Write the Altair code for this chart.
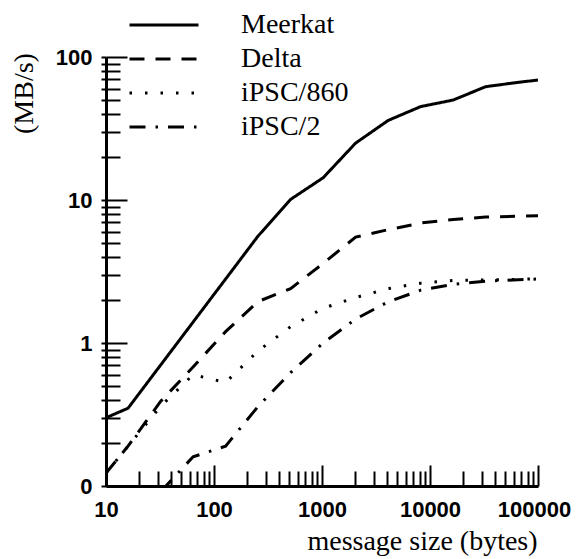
import altair as alt
import pandas as pd

# ---- data ----
sizes = [10, 16, 32, 64, 128, 256, 512, 1024, 2048, 4096, 8192, 16384, 32768, 65536, 100000]
meerkat = [0.30, 0.35, 0.70, 1.40, 2.80, 5.60, 10.1, 14.3, 25.0, 36.0, 45.0, 50.0, 62.0, 66.5, 69.0]
delta = [0.123, 0.19, 0.39, 0.68, 1.20, 1.95, 2.40, 3.60, 5.50, 6.20, 6.90, 7.30, 7.60, 7.70, 7.75]
ipsc860 = [0.123, 0.19, 0.36, 0.60, 0.53, 0.88, 1.30, 1.75, 2.08, 2.40, 2.62, 2.74, 2.76, 2.78, 2.82]
ipsc2_sizes = [32, 64, 128, 256, 512, 1024, 2048, 4096, 8192, 16384, 32768, 65536, 100000]
ipsc2 = [0.091, 0.16, 0.19, 0.36, 0.62, 1.00, 1.47, 1.94, 2.34, 2.57, 2.71, 2.77, 2.80]

series = ["Meerkat", "Delta", "iPSC/860", "iPSC/2"]
dashes = [[1, 0], [15, 11], [2.5, 13], [16, 10, 2.5, 10]]

x_major = [10, 100, 1000, 10000, 100000]
x_ticks = [10, 20, 30, 40, 50, 60, 70, 80, 90,
           100, 200, 300, 400, 500, 600, 700, 800, 900,
           1000, 2000, 3000, 4000, 5000, 6000, 7000, 8000, 9000,
           10000, 20000, 30000, 40000, 50000, 60000, 70000, 80000, 90000,
           100000]
y_major = [0.1, 1, 10, 100]
y_ticks = [0.1, 0.2, 0.3, 0.4, 0.5, 0.6, 0.7, 0.8, 0.9,
           1, 2, 3, 4, 5, 6, 7, 8, 9,
           10, 20, 30, 40, 50, 60, 70, 80, 90,
           100]

rows = []
for name, xs, ys in [("Meerkat", sizes, meerkat), ("Delta", sizes, delta),
                     ("iPSC/860", sizes, ipsc860), ("iPSC/2", ipsc2_sizes, ipsc2)]:
    for i, (xv, yv) in enumerate(zip(xs, ys)):
        rows.append({"size": xv, "rate": yv, "machine": name, "order": i})
df = pd.DataFrame(rows)

W, H = 432, 429
TICK_FONT = "Liberation Sans"
SERIF = "Liberation Serif"

xscale = alt.Scale(type="log", domain=[10, 100000], nice=False)
yscale = alt.Scale(type="log", domain=[0.1, 100], nice=False)

lines = alt.Chart(df).mark_line(clip=True, strokeWidth=3, color="black").encode(
    x=alt.X("size:Q", scale=xscale, axis=alt.Axis(
        orient="bottom", values=x_major, ticks=False, grid=False,
        format="d", labelFont=TICK_FONT, labelFontSize=22, labelFontWeight="bold",
        labelColor="black", labelPadding=13, labelFlush=False,
        labelOffset={"condition": {"test": "datum.value == 100000", "value": -4}, "value": 0},
        domainWidth=3, domainColor="black",
        title="message size (bytes)", titleFont=SERIF, titleFontSize=28,
        titleFontWeight="normal", titleColor="black",
        titleX=316, titleY=63, titleAlign="center", titleBaseline="alphabetic")),
    y=alt.Y("rate:Q", scale=yscale, axis=alt.Axis(
        orient="left", values=y_ticks, grid=False,
        tickSize=5, tickWidth=2, tickColor="black",
        labelExpr="indexof([0.1, 1, 10, 100], datum.value) >= 0 ? (datum.value == 0.1 ? '0' : format(datum.value, 'd')) : ''",
        labelFont=TICK_FONT, labelFontSize=22, labelFontWeight="bold",
        labelColor="black", labelPadding=9, labelOverlap=False, labelFlush=False,
        labelBaseline="middle",
        domainWidth=3, domainColor="black",
        title="(MB/s)", titleFont=SERIF, titleFontSize=28, titleFontWeight="normal",
        titleColor="black", titleAngle=270, titleX=-82, titleY=36,
        titleAlign="center", titleBaseline="middle")),
    strokeDash=alt.StrokeDash("machine:N", scale=alt.Scale(domain=series, range=dashes),
                              legend=alt.Legend(
                                  orient="none", legendX=22, legendY=-49, title=None,
                                  symbolType="stroke", symbolSize=4761, symbolStrokeWidth=3,
                                  symbolStrokeColor="black", labelFont=SERIF, labelFontSize=28,
                                  labelColor="black", labelOffset=41, rowPadding=0,
                                  clipHeight=34, padding=0)),
    order="order:Q",
)

inner = alt.Chart(df).mark_point(opacity=0).encode(
    x=alt.X("size:Q", scale=xscale, axis=alt.Axis(
        orient="top", offset=-H, values=x_ticks, labels=False, domain=False,
        grid=False, title=None, tickWidth=2, tickColor="black",
        tickSize={"condition": {"test": "indexof([10, 100, 1000, 10000, 100000], datum.value) >= 0", "value": 21}, "value": 15})),
    y=alt.Y("rate:Q", scale=yscale, axis=alt.Axis(
        orient="right", offset=-W, values=y_ticks, labels=False, domain=False,
        grid=False, title=None, tickWidth=2, tickColor="black",
        tickSize={"condition": {"test": "indexof([0.1, 1, 10, 100], datum.value) >= 0", "value": 21}, "value": 14})),
)

chart = alt.layer(lines, inner).resolve_axis(
    x="independent", y="independent"
).properties(
    width=W, height=H,
    autosize=alt.AutoSizeParams(type="none"),
    padding={"left": 98, "top": 49, "right": 35, "bottom": 70},
).configure_view(stroke=None)

chart.save("out.html", embed_options={"renderer": "svg", "actions": False})
